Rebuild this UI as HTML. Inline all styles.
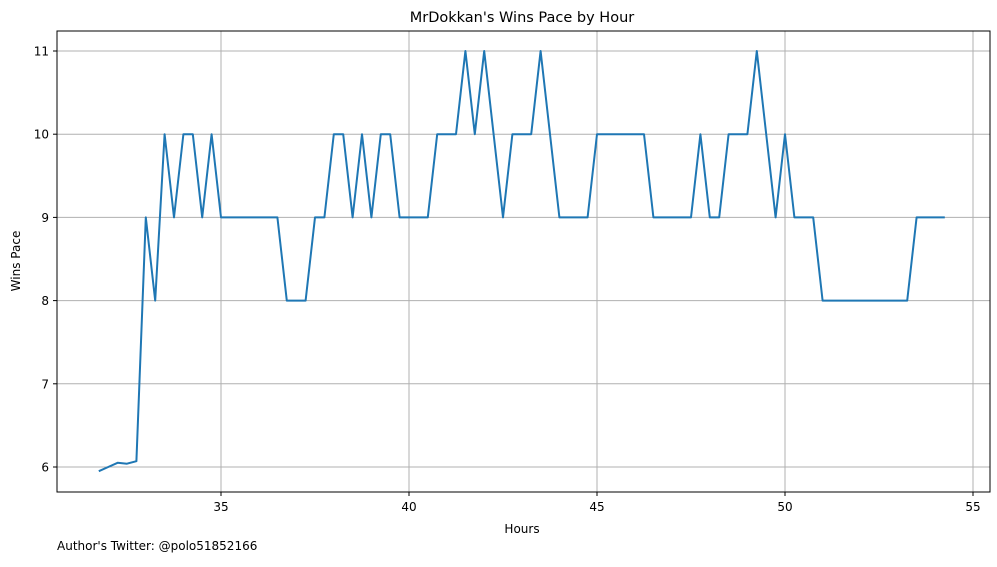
<!DOCTYPE html>
<html><head><meta charset="utf-8"><style>
body{margin:0;background:#fff;}
svg text{font-family:"DejaVu Sans","Liberation Sans",sans-serif;fill:#000;}
</style></head><body>
<svg id="chart" width="997" height="562">
<text x="522" y="22" font-size="14.5" text-anchor="middle">MrDokkan's Wins Pace by Hour</text>
<g id="grid"></g>
<g id="ticks"></g>
<rect x="57" y="31" width="933" height="461" fill="none" stroke="#000" stroke-width="1"/>
<text x="522" y="533" font-size="12" text-anchor="middle">Hours</text>
<text x="20" y="261" font-size="12" text-anchor="middle" transform="rotate(-90 20 261)">Wins Pace</text>
<text x="57" y="550" font-size="12">Author's Twitter: @polo51852166</text>
</svg>
<script>
const xStart = 31.75;
const xStep = 0.25;
const winsPace = [5.95,6.0,6.05,6.04,6.07,9,8,10,9,10,10,9,10,9,9,9,9,9,9,9,8,8,8,9,9,10,10,9,10,9,10,10,9,9,9,9,10,10,10,11,10,11,10,9,10,10,10,11,10,9,9,9,9,10,10,10,10,10,10,9,9,9,9,9,10,9,9,10,10,10,11,10,9,10,9,9,9,8,8,8,8,8,8,8,8,8,8,9,9,9,9];
const xTicks = [35,40,45,50,55];
const yTicks = [6,7,8,9,10,11];
const NS = "http://www.w3.org/2000/svg";
const svg = document.getElementById('chart');
const X = v => 221 + (v - 35) * 37.6;
const Y = v => 467 - (v - 6) * 83.2;
const grid = document.getElementById('grid'), ticks = document.getElementById('ticks');
function mk(tag, attrs, parent){const e=document.createElementNS(NS,tag);for(const k in attrs)e.setAttribute(k,attrs[k]);parent.appendChild(e);return e;}
xTicks.forEach(t=>{
  const g=mk('line',{x1:X(t),x2:X(t),y1:31,y2:492,stroke:'#b0b0b0','stroke-width':1},grid);
  
  
  mk('line',{x1:X(t),x2:X(t),y1:492,y2:496,stroke:'#000'},ticks);
  const tx=mk('text',{x:X(t),y:511,'font-size':12,'text-anchor':'middle'},ticks);
  tx.textContent=t;
  
  
});
yTicks.forEach(t=>{
  const g=mk('line',{x1:57,x2:990,y1:Y(t),y2:Y(t),stroke:'#b0b0b0','stroke-width':1},grid);
  
  
  mk('line',{x1:53,x2:57,y1:Y(t),y2:Y(t),stroke:'#000'},ticks);
  const tx=mk('text',{x:49,y:Y(t)+4.5,'font-size':12,'text-anchor':'end'},ticks);
  tx.textContent=t;
  
  
});
const pts = winsPace.map((v,i)=>X(xStart+i*xStep).toFixed(1)+','+Y(v).toFixed(1)).join(' ');
const line = mk('polyline',{points:pts,fill:'none',stroke:'#1f77b4','stroke-width':2,'stroke-linejoin':'round'},svg);


</script>
</body></html>
